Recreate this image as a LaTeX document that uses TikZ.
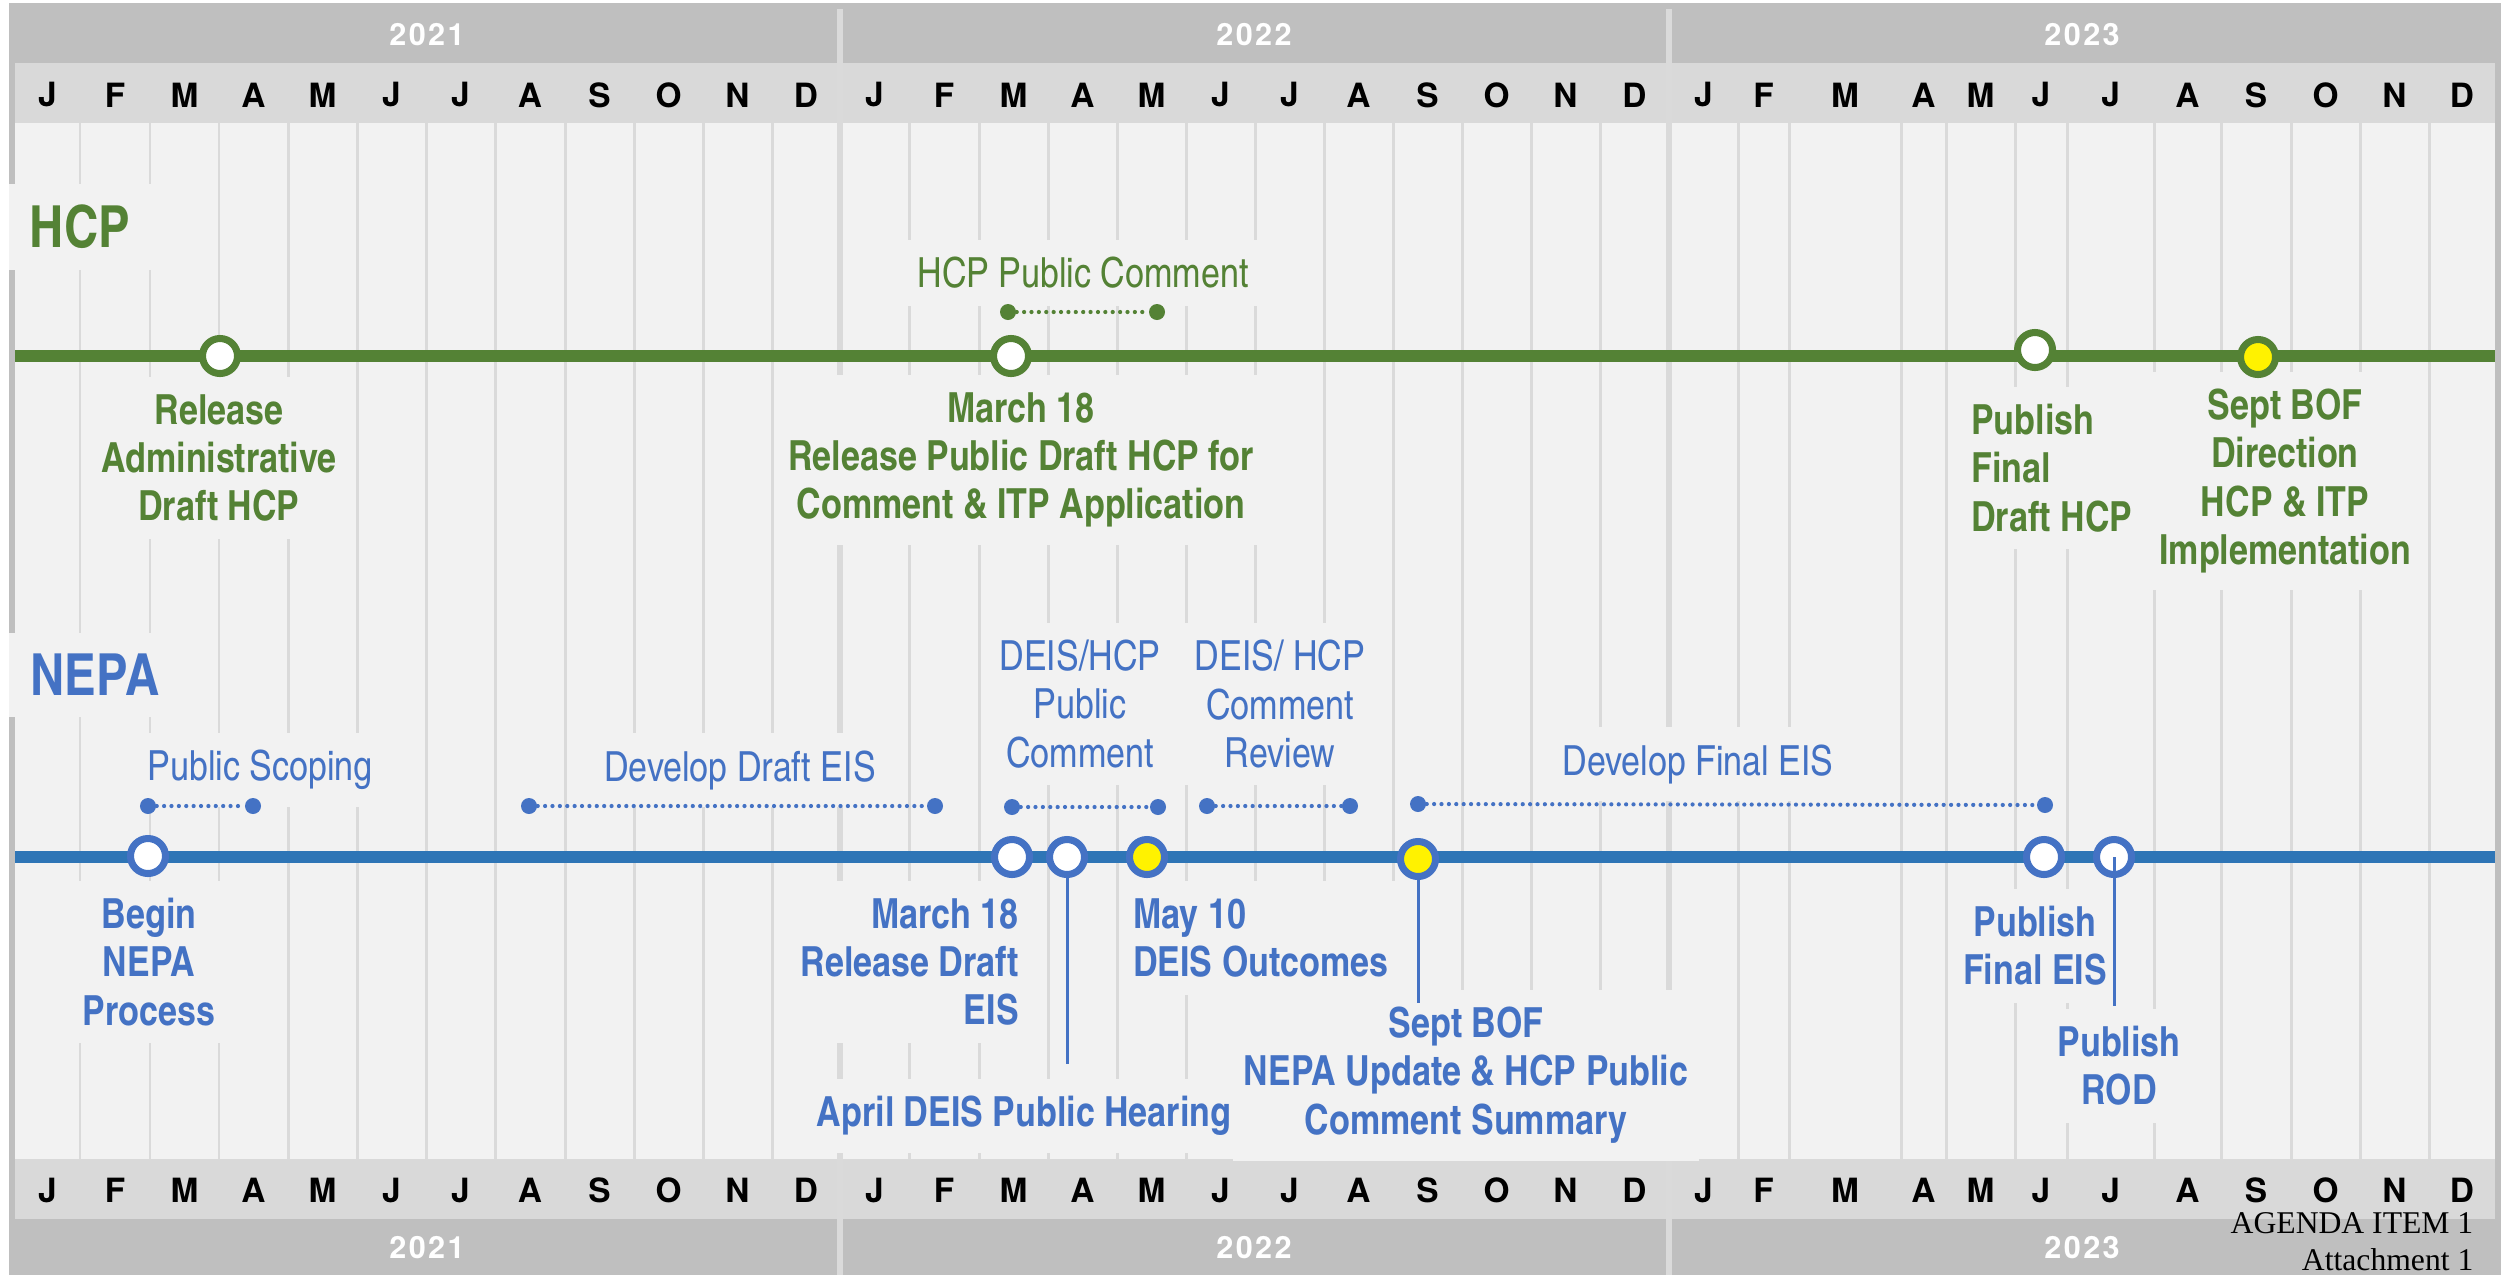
\documentclass[tikz,border=0pt]{standalone}
\usepackage{fontspec}
\setmainfont{texgyreheros}[Extension=.otf, UprightFont=*-regular, BoldFont=*-bold]
\newfontfamily\cond{texgyreheroscn}[Extension=.otf, UprightFont=*-regular, BoldFont=*-bold]
\newfontfamily\agenda{Liberation Serif}
\usepackage{xcolor}
\definecolor{framegray}{HTML}{BFBFBF}
\definecolor{bandgray}{HTML}{D9D9D9}
\definecolor{bodygray}{HTML}{F2F2F2}
\definecolor{gridgray}{HTML}{DADADA}
\definecolor{hcpgreen}{HTML}{548235}
\definecolor{nepablue}{HTML}{4472C4}
\definecolor{lineblue}{HTML}{2E75B6}

\begin{document}
\begin{tikzpicture}[x=0.01cm, y=-0.01cm,
	mstone/.style={circle, draw=#1, line width=2pt, minimum size=0.35cm, inner sep=0pt, fill=white},
	lbl/.style={fill=bodygray, inner xsep=3pt, inner ysep=5pt, align=center,
		font=\cond\bfseries\fontsize{11.8}{13.7}\selectfont},
	note/.style={lbl, font=\cond\fontsize{11.8}{13.7}\selectfont},
	head/.style={fill=bodygray, inner sep=6pt, font=\cond\bfseries\fontsize{16.5}{18}\selectfont},
	month/.style={inner sep=0pt, font=\bfseries\fontsize{9.5}{11}\selectfont},
	year/.style={inner sep=0pt, text=white, font={\fontsize{8.7}{10}\selectfont\bfseries\addfontfeature{LetterSpace=8}}},
	grid/.style={gridgray, line width=0.85pt},
	span/.style={line width=1.2pt, line cap=round, dash pattern=on 0pt off 2.1pt},
	spanend/.style={circle, fill=#1, inner sep=0pt, minimum size=0.16cm},
	leader/.style={nepablue, line width=0.85pt}]
	\useasboundingbox (0,0) rectangle (2501,1275);
	% frame and bands
	\fill[white] (0,0) rectangle (2501,1275);
	\fill[framegray] (9,3) rectangle (2501,1275);
	\fill[bandgray] (15,63) rectangle (2495,123);
	\fill[bandgray] (15,1159) rectangle (2495,1219);
	\fill[bodygray] (15,123) rectangle (2495,1159);
	\draw[gridgray, line width=1.5pt] (840,9) -- (840,1275);
	\draw[gridgray, line width=1.5pt] (1669,9) -- (1669,1275);
	\foreach \x in {80,150,219,288,357,426,495,565,634,703,772,
		909,979,1048,1117,1186,1255,1324,1393,1462,1531,1600,
		1738,1789,1901,1946,2015,2067,2154,2221,2291,2360,2429}
		\draw[grid] (\x,123) -- (\x,1159);
	% years and months
	\node[year] (ytop1) at (427,35) {2021};
	\node[year] (ytop2) at (1254,35) {2022};
	\node[year] (ytop3) at (2082,35) {2023};
	\node[year] (ybot1) at (427,1248) {2021};
	\node[year] (ybot2) at (1254,1248) {2022};
	\node[year] (ybot3) at (2082,1248) {2023};
	\foreach \a/\b/\m [count=\i] in {15/80/J,80/150/F,150/219/M,219/288/A,288/357/M,357/426/J,
		426/495/J,495/565/A,565/634/S,634/703/O,703/772/N,772/840/D,
		840/909/J,909/979/F,979/1048/M,1048/1117/A,1117/1186/M,1186/1255/J,
		1255/1324/J,1324/1393/A,1393/1462/S,1462/1531/O,1531/1600/N,1600/1669/D,
		1669/1738/J,1738/1789/F,1789/1901/M,1901/1946/A,1946/2015/M,2015/2067/J,
		2067/2154/J,2154/2221/A,2221/2291/S,2291/2360/O,2360/2429/N,2429/2495/D} {
		\node[month] (mtop\i) at ({(\a+\b)/2},95) {\m};
		\node[month] (mbot\i) at ({(\a+\b)/2},1190) {\m};
	}
	% HCP
	\node[head, text=hcpgreen] (hcpHead) at (80,227) {HCP};
	\node[note, text=hcpgreen] (hcpCmt) at (1083,273) {HCP Public Comment};
	\node[lbl, text=hcpgreen] (relAdmin) at (219,458) {Release\\Administrative\\Draft HCP};
	\node[lbl, text=hcpgreen] (relPublic) at (1021,460) {March 18\\Release Public Draft HCP for\\Comment \& ITP Application};
	\node[lbl, text=hcpgreen, anchor=west, align=left] (pubFinalHcp) at (1960,468) {Publish\\Final\\Draft HCP};
	\node[lbl, text=hcpgreen] (septDirect) at (2285,481) {Sept BOF\\Direction\\HCP \& ITP\\Implementation};
	\coordinate (hcpL) at (15,356);
	\coordinate (hcpR) at (2495,356);
	\draw[hcpgreen, line width=3.4pt] (hcpL) -- (hcpR);
	\node[spanend=hcpgreen] (hcpCmtA) at (1008,312) {};
	\node[spanend=hcpgreen] (hcpCmtB) at (1157,312) {};
	\draw[span, hcpgreen] (hcpCmtA) -- (hcpCmtB);
	\node[mstone=hcpgreen] (mAdmin) at (220,356) {};
	\node[mstone=hcpgreen] (mPublic) at (1011,356) {};
	\node[mstone=hcpgreen] (mFinalHcp) at (2035,350) {};
	\node[mstone=hcpgreen, fill=yellow] (mDirect) at (2258,357) {};
	% NEPA
	\node[head, text=nepablue] (nepaHead) at (95,675) {NEPA};
	\node[note, text=nepablue] (scoping) at (260,770) {Public Scoping};
	\node[note, text=nepablue] (draftEis) at (740,770) {Develop Draft EIS};
	\node[note, text=nepablue] (deisCmt) at (1080,704) {DEIS/HCP\\Public\\Comment};
	\node[note, text=nepablue] (cmtReview) at (1280,704) {DEIS/ HCP\\Comment\\Review};
	\node[note, text=nepablue] (finalEis) at (1698,764) {Develop Final EIS};
	\node[lbl, text=nepablue] (beginNepa) at (149,962) {Begin\\NEPA\\Process};
	\node[lbl, text=nepablue, anchor=east, align=right] (relDraft) at (1030,962) {March 18\\Release Draft\\EIS};
	\node[lbl, text=nepablue, anchor=west, align=left] (outcomes) at (1122,938) {May 10\\DEIS Outcomes};
	\node[lbl, text=nepablue] (septUpdate) at (1466,1075) {Sept BOF\\NEPA Update \& HCP Public\\Comment Summary};
	\node[lbl, text=nepablue] (hearing) at (1024,1116) {April DEIS Public Hearing};
	\node[lbl, text=nepablue] (pubFinalEis) at (2035,946) {Publish\\Final EIS};
	\node[lbl, text=nepablue] (pubRod) at (2119,1066) {Publish\\ROD};
	\coordinate (nepaL) at (15,857);
	\coordinate (nepaR) at (2495,857);
	\draw[lineblue, line width=3.4pt] (nepaL) -- (nepaR);
	\node[spanend=nepablue] (scopA) at (148,806) {};
	\node[spanend=nepablue] (scopB) at (253,806) {};
	\draw[span, nepablue] (scopA) -- (scopB);
	\node[spanend=nepablue] (dEisA) at (529,806) {};
	\node[spanend=nepablue] (dEisB) at (935,806) {};
	\draw[span, nepablue] (dEisA) -- (dEisB);
	\node[spanend=nepablue] (deisA) at (1012,807) {};
	\node[spanend=nepablue] (deisB) at (1158,807) {};
	\draw[span, nepablue] (deisA) -- (deisB);
	\node[spanend=nepablue] (revA) at (1207,806) {};
	\node[spanend=nepablue] (revB) at (1350,806) {};
	\draw[span, nepablue] (revA) -- (revB);
	\node[spanend=nepablue] (fEisA) at (1418,804) {};
	\node[spanend=nepablue] (fEisB) at (2045,805) {};
	\draw[span, nepablue] (fEisA) -- (fEisB);
	\node[mstone=nepablue] (mBegin) at (148,856) {};
	\node[mstone=nepablue] (mDraft) at (1012,857) {};
	\node[mstone=nepablue] (mHearing) at (1067,857) {};
	\node[mstone=nepablue, fill=yellow] (mOutcome) at (1147,857) {};
	\node[mstone=nepablue, fill=yellow] (mUpdate) at (1418,859) {};
	\node[mstone=nepablue] (mFinalEis) at (2044,857) {};
	\node[mstone=nepablue] (mRod) at (2114,857) {};
	\coordinate (hearingEnd) at (1067,1064);
	\coordinate (updateEnd) at (1418,1003);
	\coordinate (rodEnd) at (2114,1006);
	\draw[leader] (mHearing) -- (hearingEnd);
	\draw[leader] (mUpdate) -- (updateEnd);
	\draw[leader] (mRod.center) -- (rodEnd);
	% footer
	\node[font=\agenda\fontsize{9}{10.5}\selectfont, align=right, anchor=east, inner sep=0pt] (agenda) at (2474,1242) {AGENDA ITEM 1\\Attachment 1};
\end{tikzpicture}
\end{document}
